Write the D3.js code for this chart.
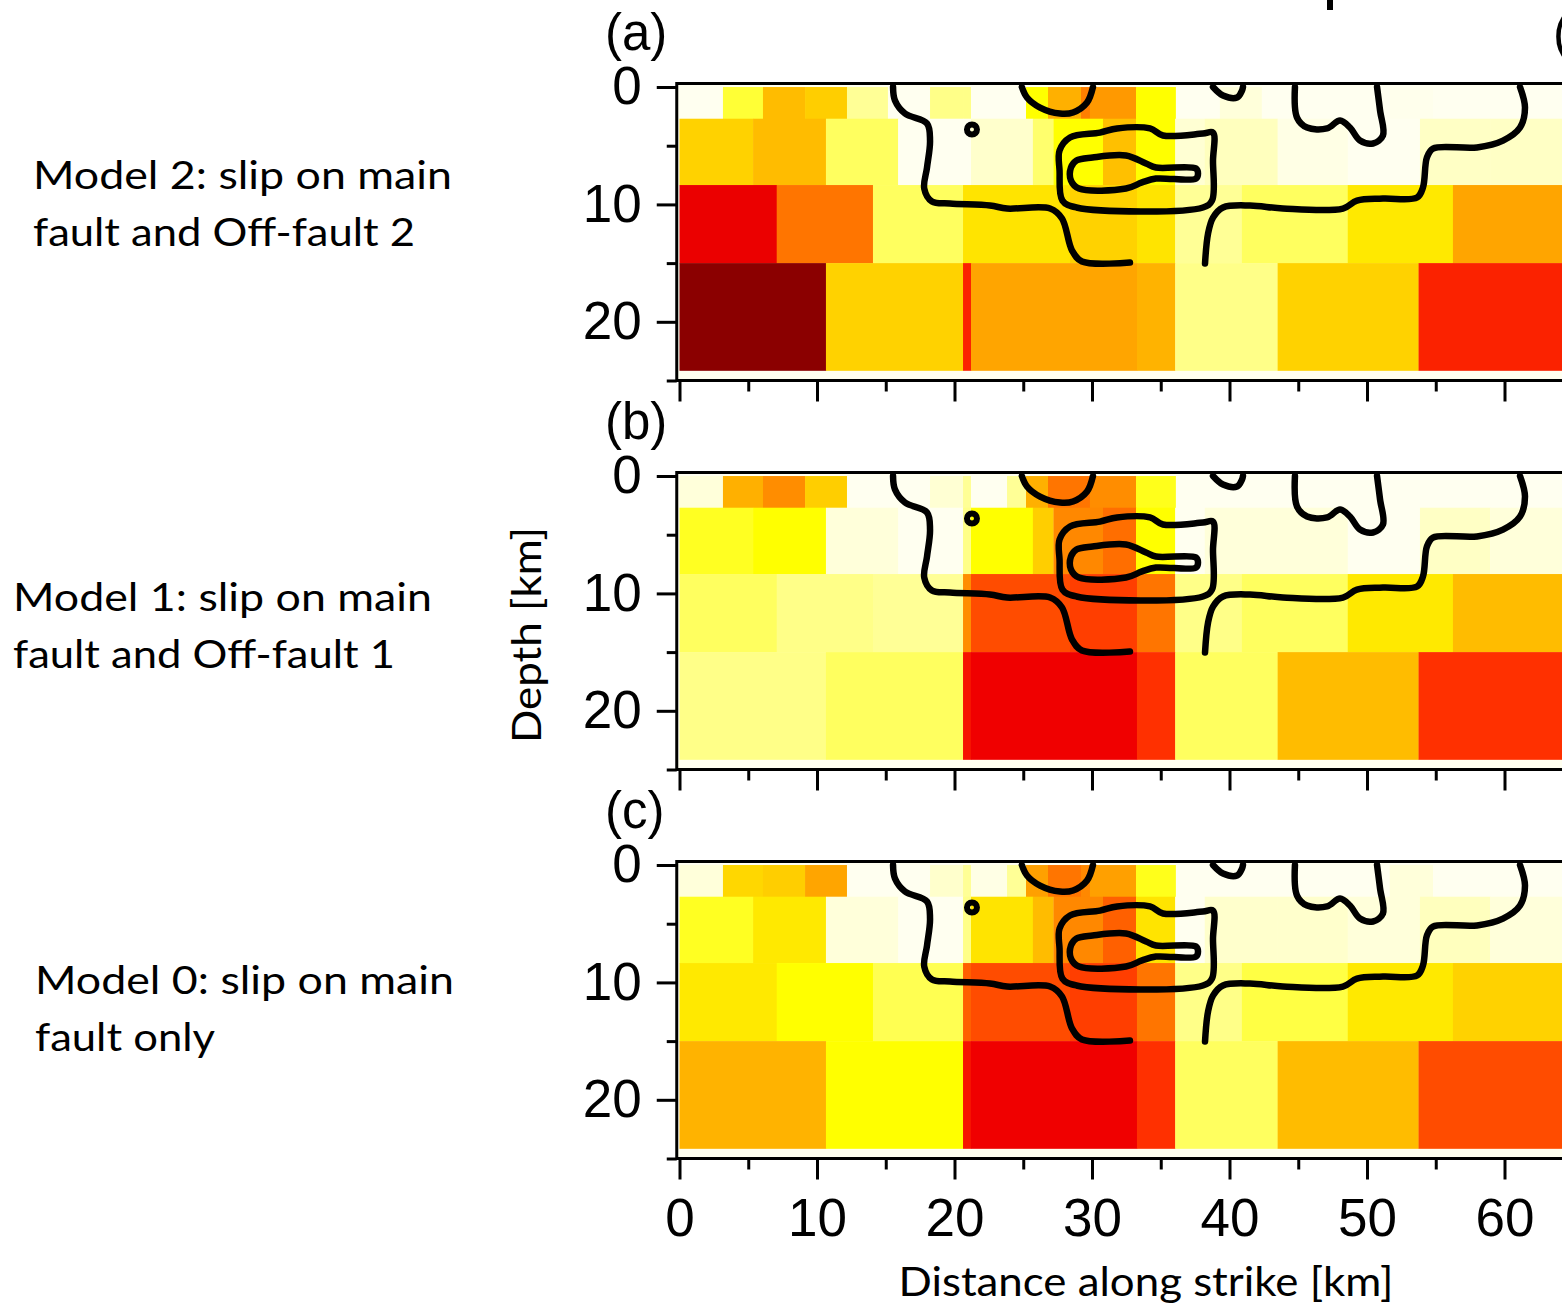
<!DOCTYPE html>
<html>
<head>
<meta charset="utf-8">
<script src="https://cdn.jsdelivr.net/npm/d3@7"></script>
<style>
  body { margin: 0; background: #fff; overflow: hidden; }
  svg { display: block; }
</style>
</head>
<body>
<svg id="chart"></svg>
<script>
// ---- data ----
const panelLabels = ['(a)', '(b)', '(c)'];
const modelText = [
  ['Model 2: slip on main', 'fault and Off-fault 2'],
  ['Model 1: slip on main', 'fault and Off-fault 1'],
  ['Model 0: slip on main', 'fault only']
];
const xTicks = [0, 10, 20, 30, 40, 50, 60];
const xMinor = [5, 15, 25, 35, 45, 55, 65];
const yTicks = [0, 10, 20];
const yMinor = [5, 15, 25];

// depth of the 4 rows of subfaults (km)
const rowDepths = [0, 2.7, 8.35, 15.0, 24.15];
// along-strike cell edges per row (km)
const rowEdges = [
  [0, 3.16, 6.07, 9.13, 12.18, 15.16, 18.22, 20.62, 21.2, 23.82, 25.2, 26.8, 29.2, 29.85, 33.2, 36.1, 39.3, 42.35, 51.65, 54.8, 68],
  [0, 5.35, 10.65, 15.9, 20.62, 21.2, 25.7, 27.2, 30.8, 33.2, 36.05, 38.2, 43.5, 48.6, 53.85, 58.95, 68],
  [0, 7.07, 14.07, 20.62, 21.2, 28.4, 33.27, 36.05, 40.9, 48.6, 56.25, 68],
  [0, 10.65, 20.62, 21.2, 33.27, 36.05, 43.5, 53.75, 68]
];

// slip per cell (relative units) for each model, row by row
const slipModel2 = [
  [0, 2.6, 4.5, 4.1, 1.8, 0, 2, 2, 0, 0, 3, 4.75, 5.8, 5.25, 3, 0, 0.6, 0, 0.1, 0],
  [4, 4.5, 2.3, 0, 0, 1, 2.2, 3, 4.4, 3, 0.8, 1.2, 0.3, 0, 1.1, 1.1],
  [8.1, 6, 2.3, 3.6, 3.6, 4, 3.6, 1.8, 2.3, 3.5, 5],
  [10, 4, 7.3, 5, 4.7, 2, 4, 7.3]
];
const slipModel1 = [
  [0.6, 4.75, 5.5, 4.1, 0, 0, 0.8, 1.8, 0, 1.8, 4.75, 6, 6, 5.5, 2.8, 0, 0, 0, 0, 0],
  [2.75, 3, 0.6, 0, 2, 3, 4.1, 5.6, 6.1, 3, 0, 0.6, 0.6, 0, 1.1, 0.6],
  [2.3, 2, 1.8, 5.5, 6.6, 6.8, 6, 2, 2.3, 3.5, 4.5],
  [2, 2.3, 7.6, 8, 7, 2.3, 4.5, 7]
];
const slipModel0 = [
  [0.6, 3.9, 4.1, 5, 0, 0, 1, 1.8, 0.3, 1.8, 5.1, 6, 5.6, 5.1, 2.8, 0, 0, 0, 0.6, 0],
  [2.75, 3.5, 0.6, 0, 2, 3.6, 4.5, 5.6, 6.3, 3.6, 0, 1, 1, 0.6, 1.2, 0.6],
  [3.5, 3, 2.4, 6.3, 6.6, 6.8, 6, 2, 2.5, 3.5, 4],
  [4.7, 3, 7.6, 8, 7, 2.3, 4.5, 6.6]
];
const panelSlip = [slipModel2, slipModel1, slipModel0];

// colour table (slip -> colour)
const slipStops = [0, 1, 2, 3, 4, 5, 6, 7, 8, 10];
const slipColors = ['#fffff0', '#ffffcc', '#ffff88', '#ffff00', '#ffd200', '#ffa500', '#ff7500', '#ff3000', '#f00000', '#8b0000'];

// contour lines (km along strike, km depth), same in every panel
const contourLines = [
  { closed: false, pts: [[15.53, 0], [15.67, 1.15], [16.4, 2.26], [18.0, 3.1], [18.22, 4.56], [18.0, 6.86], [17.8, 8.65], [18.36, 9.75], [19.67, 9.92], [22.58, 10.09], [23.82, 10.35], [26.95, 10.35], [27.82, 11.2], [28.55, 13.93], [29.27, 14.86], [32.76, 14.95]] },
  { closed: false, pts: [[24.9, 0], [25.27, 0.89], [26.22, 1.75], [27.67, 2.26], [28.62, 2.17], [29.64, 1.32], [30.07, 0]] },
  { closed: true, pts: [[28.4, 4.3], [30.58, 3.88], [31.82, 3.53], [34.22, 3.53], [35.16, 4.13], [38.07, 3.96], [38.8, 3.88], [38.8, 6.26], [38.73, 9.67], [38.07, 10.26], [28.87, 10.26], [27.85, 9.67], [27.64, 7.11], [27.64, 5.41]] },
  { closed: true, pts: [[28.87, 6.26], [30.04, 6.0], [32.47, 5.83], [33.93, 6.52], [34.65, 6.86], [37.56, 6.94], [37.71, 7.37], [37.56, 7.8], [34.65, 7.8], [33.64, 8.13], [32.47, 8.65], [29.05, 8.65], [28.47, 7.96], [28.47, 6.86]] },
  { closed: false, pts: [[38.22, 15.03], [38.44, 12.48], [38.8, 11.12], [39.53, 10.26], [41.49, 10.09], [43.89, 10.35], [48.25, 10.35], [49.27, 9.67], [51.16, 9.5], [53.64, 9.41], [54.07, 8.56], [54.36, 6.0], [54.8, 5.24], [58.0, 5.15], [59.89, 4.56], [61.13, 3.45], [61.49, 1.75], [61.13, 0]] },
  { closed: false, pts: [[38.8, 0], [39.53, 0.72], [40.55, 0.89], [40.91, 0.3], [40.98, 0]] },
  { closed: false, pts: [[44.76, 0], [44.91, 2.6], [45.64, 3.45], [47.09, 3.53], [48.04, 2.85], [48.76, 3.45], [49.49, 4.56], [50.44, 4.81], [51.16, 4.13], [50.95, 2.0], [50.73, 0]] }
];
const contourDot = [21.27, 3.62];

// ---- layout ----
const W = 1562, H = 1306;
const panelTops = [83.5, 472.5, 861.5];
const panelH = 297;
const depthDomain = [-0.3, 25];
const xDomain = [-0.2, 68];

const svg = d3.select('#chart').attr('width', W).attr('height', H);
svg.append('rect').attr('width', W).attr('height', H).attr('fill', '#fff');

const x = d3.scaleLinear().domain([0, 10]).range([679.5, 817]);
const color = d3.scaleLinear().domain(slipStops).range(slipColors).interpolate(d3.interpolateRgb);
const tickFont = '"Liberation Sans", Arial, sans-serif';
const noteFont = 'Lato, "Open Sans", sans-serif';

panelTops.forEach((top, p) => {
  const y = d3.scaleLinear().domain(depthDomain).range([top, top + panelH]);
  const g = svg.append('g');

  // clip to the frame
  const clipId = 'clip' + p;
  g.append('clipPath').attr('id', clipId)
    .append('rect')
    .attr('x', x(xDomain[0])).attr('y', y(depthDomain[0]))
    .attr('width', x(xDomain[1]) - x(xDomain[0]))
    .attr('height', y(depthDomain[1]) - y(depthDomain[0]));

  const inner = g.append('g').attr('clip-path', `url(#${clipId})`);

  inner.append('rect')
    .attr('x', x(xDomain[0])).attr('y', y(depthDomain[0]))
    .attr('width', x(xDomain[1]) - x(xDomain[0]))
    .attr('height', y(depthDomain[1]) - y(depthDomain[0]))
    .attr('fill', color(0));

  // slip cells
  const cells = [];
  rowEdges.forEach((edges, r) => {
    for (let i = 0; i < edges.length - 1; i++) {
      cells.push({ x0: edges[i], x1: edges[i + 1], d0: rowDepths[r], d1: rowDepths[r + 1], slip: panelSlip[p][r][i] });
    }
  });
  inner.selectAll('.cell')
    .data(cells)
    .enter()
    .append('rect')
    .attr('class', 'cell')
    .attr('x', d => x(d.x0))
    .attr('y', d => y(d.d0))
    .attr('width', d => x(d.x1) - x(d.x0) + 0.3)
    .attr('height', d => y(d.d1) - y(d.d0) + 0.3)
    .attr('fill', d => color(d.slip));

  // contours
  contourLines.forEach(c => {
    const line = d3.line()
      .x(d => x(d[0]))
      .y(d => y(d[1]))
      .curve(c.closed ? d3.curveCatmullRomClosed.alpha(0.5) : d3.curveCatmullRom.alpha(0.5));
    inner.append('path')
      .attr('d', line(c.pts))
      .attr('fill', 'none')
      .attr('stroke', '#000')
      .attr('stroke-width', 6.5)
      .attr('stroke-linecap', 'round')
      .attr('stroke-linejoin', 'round');
  });
  inner.append('circle')
    .attr('cx', x(contourDot[0]))
    .attr('cy', y(contourDot[1]))
    .attr('r', 5)
    .attr('fill', 'none')
    .attr('stroke', '#000')
    .attr('stroke-width', 6);

  // frame
  g.append('rect')
    .attr('x', x(xDomain[0])).attr('y', y(depthDomain[0]))
    .attr('width', x(xDomain[1]) - x(xDomain[0]))
    .attr('height', y(depthDomain[1]) - y(depthDomain[0]))
    .attr('fill', 'none')
    .attr('stroke', '#000')
    .attr('stroke-width', 3);

  // left axis
  const yAxis = g.append('g')
    .attr('transform', `translate(${x(xDomain[0])},0)`)
    .call(d3.axisLeft(y).tickValues(yTicks).tickSize(20).tickSizeOuter(0).tickPadding(15));
  yAxis.append('g')
    .call(d3.axisLeft(y).tickValues(yMinor).tickSize(10).tickSizeOuter(0).tickFormat(''));
  yAxis.selectAll('.domain').remove();
  yAxis.selectAll('line').attr('stroke', '#000').attr('stroke-width', 3);
  yAxis.selectAll('text')
    .attr('font-family', tickFont)
    .attr('font-size', 53)
    .attr('fill', '#000');

  // bottom axis
  const xAxis = g.append('g')
    .attr('transform', `translate(0,${y(depthDomain[1])})`)
    .call(d3.axisBottom(x).tickValues(xTicks).tickSize(21).tickSizeOuter(0).tickPadding(19)
      .tickFormat(p === 2 ? d3.format('d') : ''));
  xAxis.append('g')
    .call(d3.axisBottom(x).tickValues(xMinor).tickSize(11).tickSizeOuter(0).tickFormat(''));
  xAxis.selectAll('.domain').remove();
  xAxis.selectAll('line').attr('stroke', '#000').attr('stroke-width', 3);
  xAxis.selectAll('text')
    .attr('font-family', tickFont)
    .attr('font-size', 53)
    .attr('fill', '#000');

  // panel letter
  svg.append('text')
    .attr('x', 605).attr('y', top - 34)
    .attr('font-family', tickFont)
    .attr('font-size', 51)
    .text(panelLabels[p]);
});

// next panel letter, cut at the page edge as in the source figure
svg.append('text')
  .attr('x', 1553).attr('y', panelTops[0] - 34)
  .attr('font-family', tickFont)
  .attr('font-size', 51)
  .text('(d)');
svg.append('rect')
  .attr('x', 1327).attr('y', 0).attr('width', 6).attr('height', 10).attr('fill', '#000');

// model descriptions
const notePos = [
  { x: 33, y: 189, w: [419, 382] },
  { x: 13, y: 611, w: [419, 382] },
  { x: 35, y: 994, w: [419, 180] }
];
modelText.forEach((lines, p) => {
  lines.forEach((t, i) => {
    svg.append('text')
      .attr('x', notePos[p].x)
      .attr('y', notePos[p].y + i * 57)
      .attr('font-family', noteFont)
      .attr('font-size', 39)
      .attr('textLength', notePos[p].w[i])
      .attr('lengthAdjust', 'spacingAndGlyphs')
      .text(t);
  });
});

// axis titles
svg.append('text')
  .attr('transform', 'translate(541,635) rotate(-90)')
  .attr('text-anchor', 'middle')
  .attr('font-family', noteFont)
  .attr('font-size', 40)
  .attr('textLength', 216)
  .attr('lengthAdjust', 'spacingAndGlyphs')
  .text('Depth [km]');

svg.append('text')
  .attr('x', 1146).attr('y', 1296)
  .attr('text-anchor', 'middle')
  .attr('font-family', noteFont)
  .attr('font-size', 40)
  .attr('textLength', 495)
  .attr('lengthAdjust', 'spacingAndGlyphs')
  .text('Distance along strike [km]');
</script>
</body>
</html>
